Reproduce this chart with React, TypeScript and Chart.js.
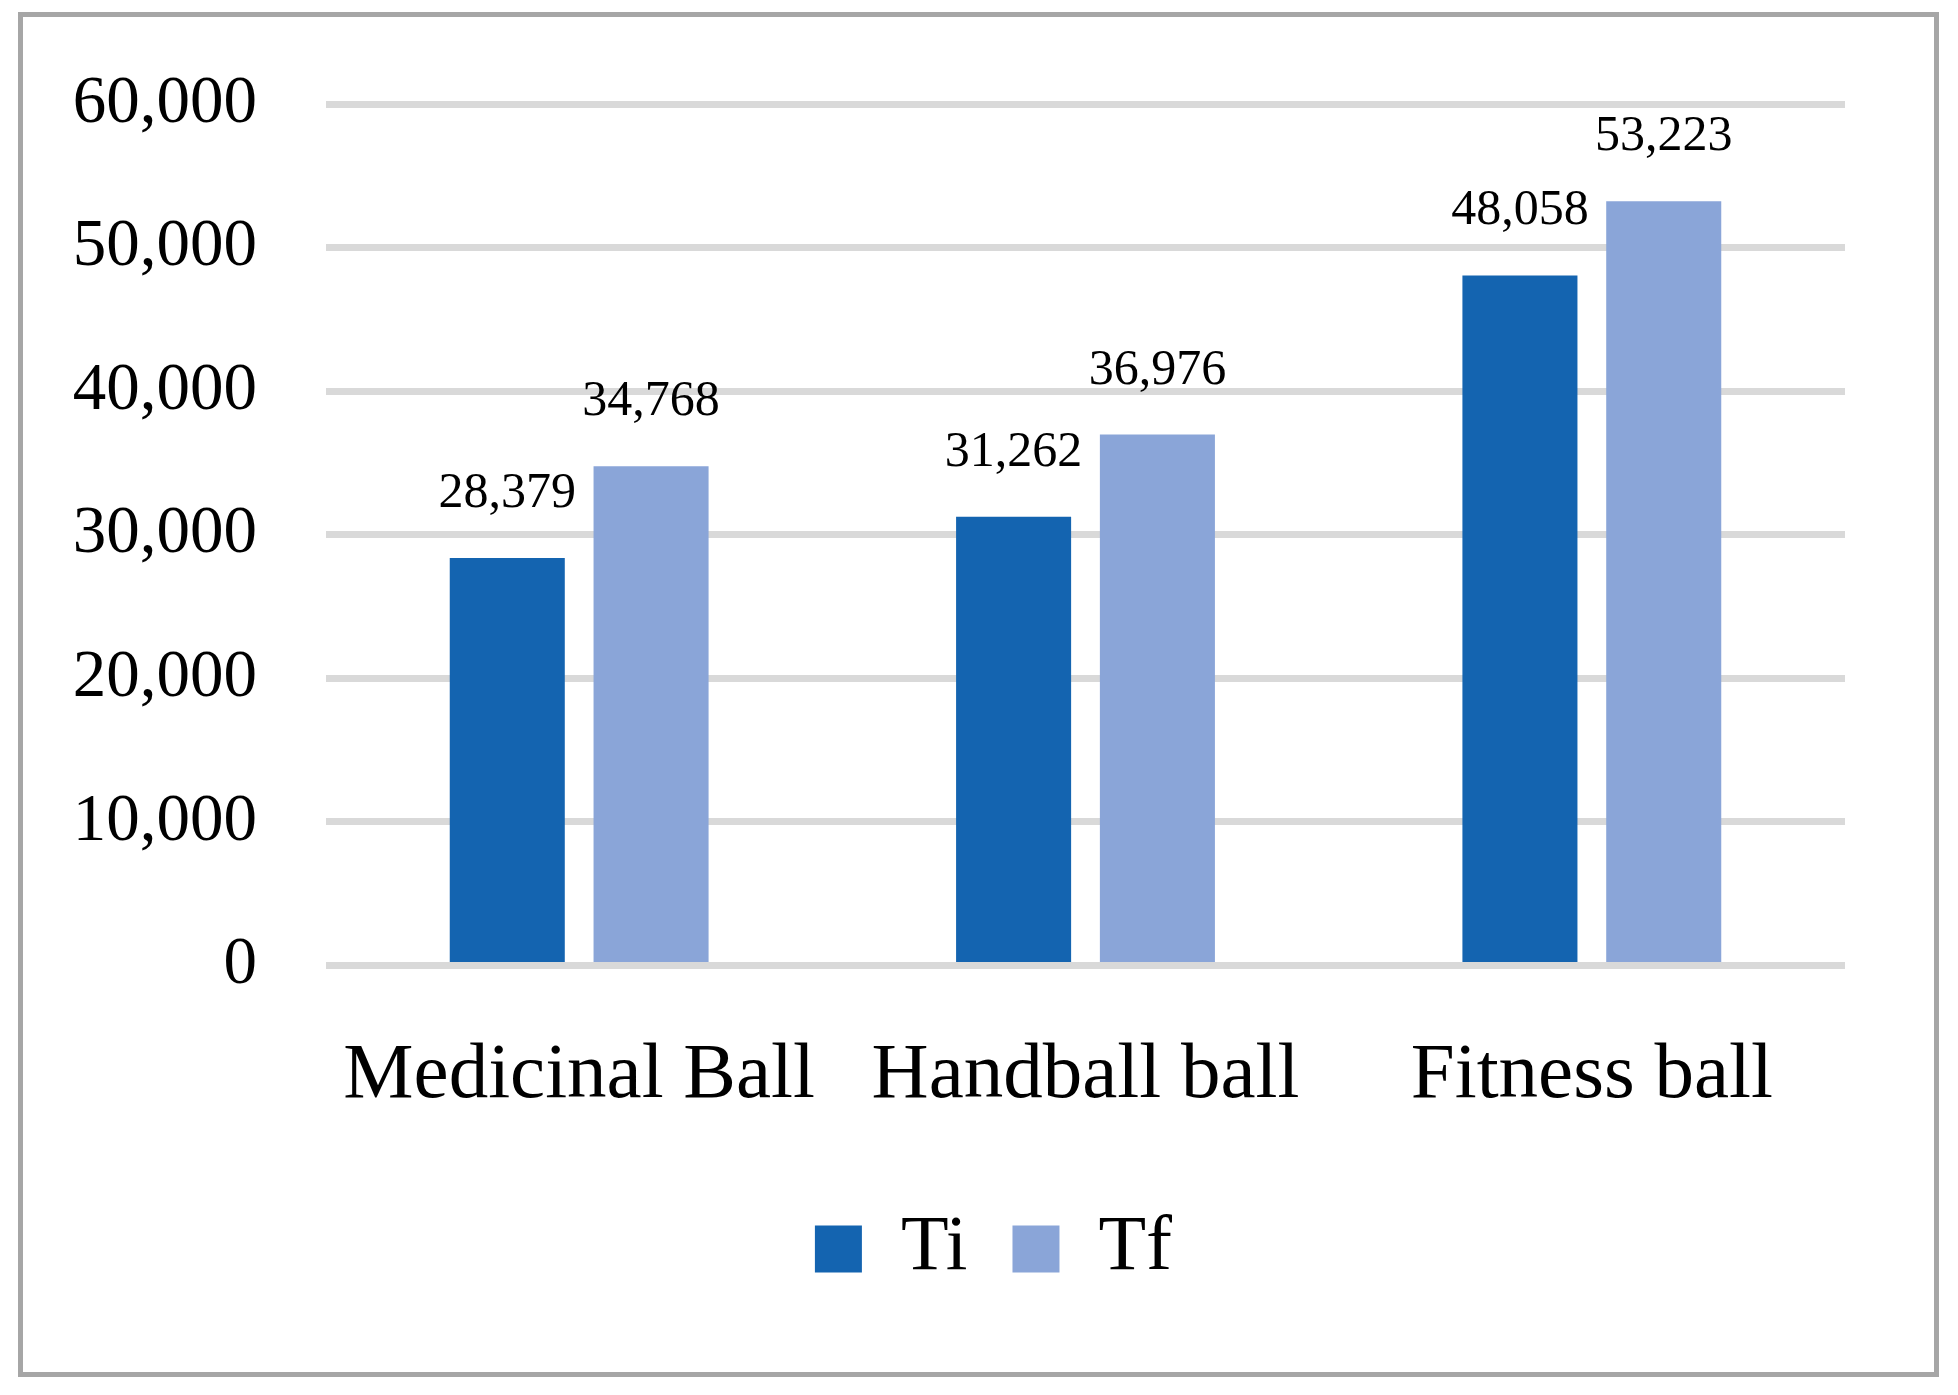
import React, { useEffect, useRef } from "react";
import { Chart, registerables } from "chart.js";

Chart.register(...registerables);

const categories = ["Medicinal Ball", "Handball ball", "Fitness ball"];
const seriesNames = ["Ti", "Tf"];
const tiValues = [28379, 31262, 48058];
const tfValues = [34768, 36976, 53223];
const seriesColors = ["#1464B0", "#8AA5D8"];
const yMax = 60000;
const yStep = 10000;

const FONT = "'Liberation Serif', 'Times New Roman', serif";

const frameAndLabels = {
  id: "frameAndLabels",
  afterLayout(chart: any) {
    if (chart.legend) {
      chart.legend.left += 61;
      chart.legend.right += 61;
    }
  },
  beforeDraw(chart: any) {
    const ctx = chart.ctx;
    ctx.save();
    ctx.fillStyle = "#ffffff";
    ctx.fillRect(0, 0, chart.width, chart.height);
    ctx.strokeStyle = "#A6A6A6";
    ctx.lineWidth = 5;
    ctx.strokeRect(20.5, 14.5, 1916, 1360);
    ctx.restore();
  },
  afterDatasetsDraw(chart: any) {
    const ctx = chart.ctx;
    ctx.save();
    ctx.fillStyle = "#000000";
    ctx.font = `50px ${FONT}`;
    ctx.textAlign = "center";
    ctx.textBaseline = "alphabetic";
    chart.data.datasets.forEach((ds: any, di: number) => {
      const meta = chart.getDatasetMeta(di);
      meta.data.forEach((bar: any, i: number) => {
        const v = ds.data[i];
        ctx.fillText(Number(v).toLocaleString("en-US"), bar.x, bar.y - 51);
      });
    });
    ctx.restore();
  },
};

export default function App() {
  const ref = useRef<HTMLCanvasElement | null>(null);
  useEffect(() => {
    if (!ref.current) return;
    const chart = new Chart(ref.current, {
      type: "bar",
      data: {
        labels: categories,
        datasets: [
          { label: seriesNames[0], data: tiValues, backgroundColor: seriesColors[0], categoryPercentage: 0.568, barPercentage: 0.8 },
          { label: seriesNames[1], data: tfValues, backgroundColor: seriesColors[1], categoryPercentage: 0.568, barPercentage: 0.8 },
        ],
      },
      options: {
        animation: false,
        responsive: false,
        devicePixelRatio: 1,
        layout: { padding: { left: 20, right: 113, top: 104, bottom: 97 } },
        plugins: {
          legend: {
            position: "bottom",
            labels: {
              boxWidth: 47,
              boxHeight: 47,
              padding: 45,
              color: "#000",
              font: { family: FONT, size: 78 },
            },
          },
          tooltip: { enabled: false },
        },
        scales: {
          x: {
            grid: { display: false, drawTicks: false },
            border: { display: false },
            ticks: { color: "#000", font: { family: FONT, size: 79 }, padding: 63, maxRotation: 0, autoSkip: false },
            afterFit(scale: any) {
              scale.height = 199.5;
            },
          },
          y: {
            min: 0,
            max: yMax,
            grid: { color: "#D9D9D9", lineWidth: 7, drawTicks: true, tickLength: 69, tickColor: "rgba(0,0,0,0)" },
            border: { display: false },
            ticks: {
              stepSize: yStep,
              color: "#000",
              padding: 0,
              font: { family: FONT, size: 67 },
              callback: (v: any) => Number(v).toLocaleString("en-US"),
            },
            afterFit(scale: any) {
              scale.width = 306;
            },
          },
        },
      },
      plugins: [frameAndLabels],
    });
    return () => chart.destroy();
  }, []);
  return (
    <div style={{ position: "absolute", left: 0, top: 0, width: 1958, height: 1395 }}>
      <canvas ref={ref} width={1958} height={1395} style={{ width: 1958, height: 1395, display: "block" }} />
    </div>
  );
}
